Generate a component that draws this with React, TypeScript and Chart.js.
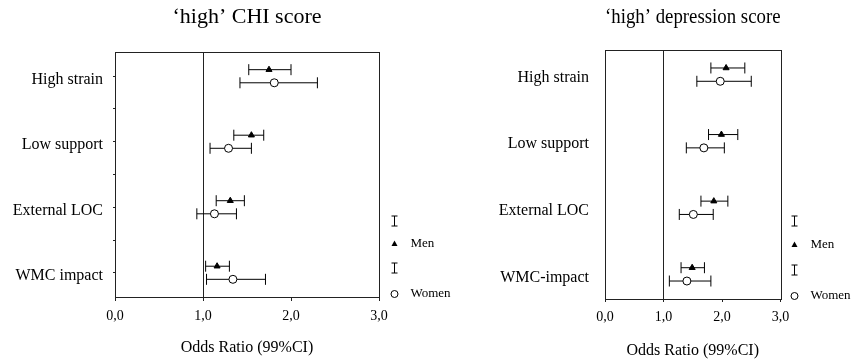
import React, { useEffect, useRef } from 'react';
import { Chart, registerables } from 'chart.js';

Chart.register(...registerables);

const FONT = '"Liberation Serif", "Times New Roman", Times, serif';
Chart.defaults.font.family = FONT;
Chart.defaults.color = '#000';

// ---------- data ----------
const categoriesLeft = ['High strain', 'Low support', 'External LOC', 'WMC impact'];
const categoriesRight = ['High strain', 'Low support', 'External LOC', 'WMC-impact'];
const xTickValues = [0, 1, 2, 3];
const xTickLabels = ['0,0', '1,0', '2,0', '3,0'];
const seriesNames = ['Men', 'Women'];

// 'high' CHI score
const chiMenOR = [1.75, 1.55, 1.31, 1.16];
const chiMenLow = [1.52, 1.35, 1.15, 1.03];
const chiMenHigh = [2.0, 1.69, 1.47, 1.3];
const chiWomenOR = [1.81, 1.29, 1.13, 1.34];
const chiWomenLow = [1.42, 1.08, 0.93, 1.04];
const chiWomenHigh = [2.3, 1.55, 1.38, 1.71];

// 'high' depression score
const depMenOR = [2.07, 1.99, 1.86, 1.49];
const depMenLow = [1.81, 1.77, 1.64, 1.3];
const depMenHigh = [2.39, 2.27, 2.1, 1.7];
const depWomenOR = [1.97, 1.69, 1.51, 1.4];
const depWomenLow = [1.57, 1.39, 1.27, 1.1];
const depWomenHigh = [2.5, 2.04, 1.85, 1.81];

const MEN_OFFSET = -0.1;
const WOMEN_OFFSET = 0.1;

function pointData(values: number[], offset: number) {
  return values.map((v, i) => ({ x: v, y: i + offset }));
}

function ciData(low: number[], high: number[], offset: number) {
  const out: any[] = [];
  low.forEach((l, i) => {
    out.push({ x: l, y: i + offset });
    out.push({ x: high[i], y: i + offset });
    out.push({ x: null, y: null });
  });
  return out;
}

type Params = {
  title: string;
  categories: string[];
  menOR: number[];
  menLow: number[];
  menHigh: number[];
  womenOR: number[];
  womenLow: number[];
  womenHigh: number[];
  padRight: number;
  yAxisWidth: number;
  yTickLen: number;
  yTickPad: number;
  yLabelOffset: number;
  yTickValues: number[];
  titlePadBottom: number;
  xAxisHeight: number;
  xTickLen: number;
  xTickPad: number;
  xTitlePadBottom: number;
  legendX: number;
  legendYs: number[];
};

function makeFramePlugin(p: Params) {
  return {
    id: 'frameAndLegend',
    beforeDatasetsDraw(chart: any) {
      const { ctx, chartArea } = chart;
      ctx.save();
      ctx.strokeStyle = '#222';
      ctx.lineWidth = 1;
      ctx.strokeRect(
        Math.round(chartArea.left) + 0.5,
        Math.round(chartArea.top) + 0.5,
        Math.round(chartArea.right - chartArea.left),
        Math.round(chartArea.bottom - chartArea.top)
      );
      ctx.restore();
    },
    afterDraw(chart: any) {
      const ctx = chart.ctx;
      const x = p.legendX;
      const [y1, y2, y3, y4] = p.legendYs;
      ctx.save();
      ctx.strokeStyle = '#000';
      ctx.fillStyle = '#000';
      ctx.lineWidth = 1;
      const drawI = (y: number) => {
        ctx.beginPath();
        ctx.moveTo(x, y - 5);
        ctx.lineTo(x, y + 5);
        ctx.moveTo(x - 3, y - 5);
        ctx.lineTo(x + 3, y - 5);
        ctx.moveTo(x - 3, y + 5);
        ctx.lineTo(x + 3, y + 5);
        ctx.stroke();
      };
      drawI(y1);
      ctx.beginPath();
      ctx.moveTo(x, y2 - 3.5);
      ctx.lineTo(x + 3, y2 + 2);
      ctx.lineTo(x - 3, y2 + 2);
      ctx.closePath();
      ctx.fill();
      drawI(y3);
      ctx.beginPath();
      ctx.arc(x, y4, 3.5, 0, Math.PI * 2);
      ctx.stroke();
      ctx.font = '13px ' + FONT;
      ctx.textBaseline = 'middle';
      ctx.textAlign = 'left';
      ctx.fillText(seriesNames[0], x + 16, y2);
      ctx.fillText(seriesNames[1], x + 16, y4);
      ctx.restore();
    },
  };
}

function buildConfig(p: Params): any {
  return {
    type: 'scatter',
    data: {
      datasets: [
        {
          label: seriesNames[0],
          data: pointData(p.menOR, MEN_OFFSET),
          pointStyle: 'triangle',
          pointRadius: 3.5,
          backgroundColor: '#000',
          borderColor: '#000',
          borderWidth: 1,
          order: 0,
        },
        {
          label: seriesNames[1],
          data: pointData(p.womenOR, WOMEN_OFFSET),
          pointStyle: 'circle',
          pointRadius: 4,
          backgroundColor: '#fff',
          borderColor: '#000',
          borderWidth: 1,
          order: 0,
        },
        {
          label: seriesNames[0] + ' CI',
          data: ciData(p.menLow, p.menHigh, MEN_OFFSET),
          showLine: true,
          spanGaps: false,
          pointStyle: 'line',
          pointRotation: 90,
          pointRadius: 5.5,
          pointBorderColor: '#000',
          pointBorderWidth: 1,
          borderColor: '#000',
          borderWidth: 1,
          backgroundColor: '#000',
          order: 1,
        },
        {
          label: seriesNames[1] + ' CI',
          data: ciData(p.womenLow, p.womenHigh, WOMEN_OFFSET),
          showLine: true,
          spanGaps: false,
          pointStyle: 'line',
          pointRotation: 90,
          pointRadius: 5.5,
          pointBorderColor: '#000',
          pointBorderWidth: 1,
          borderColor: '#000',
          borderWidth: 1,
          backgroundColor: '#000',
          order: 1,
        },
      ],
    },
    options: {
      responsive: false,
      animation: false,
      devicePixelRatio: 1,
      layout: { padding: { left: 0, right: p.padRight, top: 0, bottom: 0 } },
      plugins: {
        legend: { display: false },
        tooltip: { enabled: false },
        title: {
          display: true,
          text: p.title,
          fullSize: false,
          color: '#000',
          font: { size: 22, weight: 'normal', family: FONT },
          padding: { top: 4, bottom: p.titlePadBottom },
        },
      },
      scales: {
        x: {
          type: 'linear',
          min: 0,
          max: 3,
          afterBuildTicks: (s: any) => {
            s.ticks = xTickValues.map((value) => ({ value }));
          },
          afterFit: (s: any) => {
            s.height = p.xAxisHeight;
          },
          ticks: {
            callback: (v: number) => xTickLabels[xTickValues.indexOf(v)],
            font: { size: 14, family: FONT },
            color: '#000',
            padding: p.xTickPad,
            maxRotation: 0,
            autoSkip: false,
          },
          grid: {
            color: (ctx: any) => (ctx.tick && ctx.tick.value === 1 ? '#222' : 'rgba(0,0,0,0)'),
            tickColor: '#222',
            tickLength: p.xTickLen,
            drawTicks: true,
            lineWidth: 1,
          },
          border: { display: false },
          title: {
            display: true,
            text: 'Odds Ratio (99%CI)',
            color: '#000',
            font: { size: 16, family: FONT },
            padding: { top: 0, bottom: p.xTitlePadBottom },
          },
        },
        y: {
          type: 'linear',
          reverse: true,
          min: -0.37,
          max: 3.37,
          afterBuildTicks: (s: any) => {
            s.ticks = p.yTickValues.map((value) => ({ value }));
          },
          afterFit: (s: any) => {
            s.width = p.yAxisWidth;
          },
          ticks: {
            callback: (v: number) => (Number.isInteger(v) ? p.categories[v] : ''),
            font: { size: 16, family: FONT },
            color: '#000',
            padding: p.yTickPad,
            labelOffset: p.yLabelOffset,
            autoSkip: false,
          },
          grid: {
            drawOnChartArea: false,
            drawTicks: p.yTickLen > 0,
            tickLength: p.yTickLen,
            tickColor: '#222',
          },
          border: { display: false },
        },
      },
    },
    plugins: [makeFramePlugin(p)],
  };
}

const leftParams: Params = {
  title: '\u2018high\u2019 CHI score',
  categories: categoriesLeft,
  menOR: chiMenOR,
  menLow: chiMenLow,
  menHigh: chiMenHigh,
  womenOR: chiWomenOR,
  womenLow: chiWomenLow,
  womenHigh: chiWomenHigh,
  padRight: 86,
  yAxisWidth: 115,
  yTickLen: 2,
  yTickPad: 10,
  yLabelOffset: 3.5,
  yTickValues: [0, 0.5, 1, 1.5, 2, 2.5, 3],
  titlePadBottom: 21.6,
  xAxisHeight: 63,
  xTickLen: 4,
  xTickPad: 6.6,
  xTitlePadBottom: 2.4,
  legendX: 394.5,
  legendYs: [221, 244, 268, 294],
};

const rightParams: Params = {
  title: '\u2018high\u2019 depression score',
  categories: categoriesRight,
  menOR: depMenOR,
  menLow: depMenLow,
  menHigh: depMenHigh,
  womenOR: depWomenOR,
  womenLow: depWomenLow,
  womenHigh: depWomenHigh,
  padRight: 72.5,
  yAxisWidth: 140,
  yTickLen: 0,
  yTickPad: 16,
  yLabelOffset: 3,
  yTickValues: [0, 1, 2, 3],
  titlePadBottom: 19.6,
  xAxisHeight: 61,
  xTickLen: 3,
  xTickPad: 6.6,
  xTitlePadBottom: 0,
  legendX: 329.5,
  legendYs: [221, 245, 270, 296],
};

function ChartCanvas({ params, left, width }: { params: Params; left: number; width: number }) {
  const ref = useRef<HTMLCanvasElement | null>(null);
  useEffect(() => {
    if (!ref.current) return;
    const chart = new Chart(ref.current, buildConfig(params));
    return () => chart.destroy();
  }, [params]);
  return (
    <canvas
      ref={ref}
      width={width}
      height={360}
      style={{ position: 'absolute', left, top: 0, width, height: 360, display: 'block' }}
    />
  );
}

export default function App() {
  return (
    <div
      style={{
        position: 'absolute',
        left: 0,
        top: 0,
        width: 853,
        height: 360,
        background: '#fff',
        overflow: 'hidden',
      }}
    >
      <ChartCanvas params={leftParams} left={0} width={465} />
      <ChartCanvas params={rightParams} left={465} width={388} />
    </div>
  );
}
